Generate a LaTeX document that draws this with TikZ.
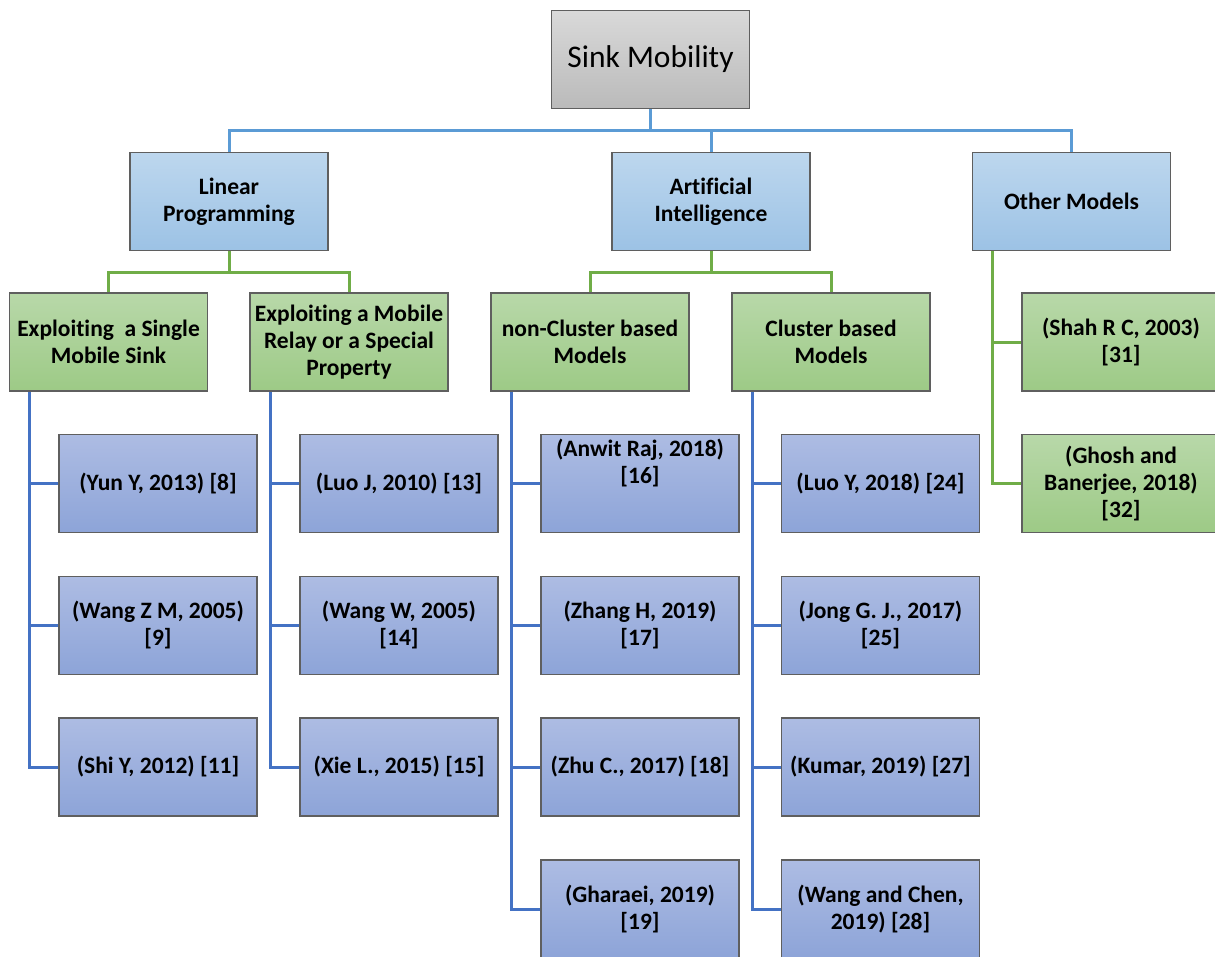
\documentclass[tikz,border=0pt]{standalone}
\usepackage{fontspec}
\setmainfont[Ligatures=NoCommon]{Carlito}
\definecolor{grayT}{HTML}{D9D9D9}
\definecolor{grayB}{HTML}{BABABA}
\definecolor{blueT}{HTML}{BDD7EE}
\definecolor{blueB}{HTML}{9CC2E5}
\definecolor{greenT}{HTML}{B8D8A9}
\definecolor{greenB}{HTML}{9DCA86}
\definecolor{leafT}{HTML}{ADBCE3}
\definecolor{leafB}{HTML}{8DA4D8}
\definecolor{edgeC}{HTML}{5F5F5F}
\definecolor{lineTop}{HTML}{5B9BD5}
\definecolor{lineLeaf}{HTML}{4472C4}
\definecolor{lineGreen}{HTML}{70AD47}
\tikzset{
  boxbase/.style={draw=edgeC, line width=1.2pt, minimum width=198pt, minimum height=98pt,
    align=center, inner sep=2pt, font=\fontsize{23.5}{27}\selectfont\bfseries},
  sinkbox/.style={boxbase, top color=grayT, bottom color=grayB, font=\fontsize{31.5}{36}\selectfont},
  catbox/.style={boxbase, top color=blueT, bottom color=blueB},
  subbox/.style={boxbase, top color=greenT, bottom color=greenB},
  leafbox/.style={boxbase, top color=leafT, bottom color=leafB},
  topline/.style={draw=lineTop, line width=3pt},
  greenline/.style={draw=lineGreen, line width=3pt},
  leafline/.style={draw=lineLeaf, line width=3pt},
}
\begin{document}
\begin{tikzpicture}[x=1pt,y=-1pt]
\useasboundingbox (0,0) rectangle (1215,956);
\clip (0,0) rectangle (1215,956);
\fill[white] (0,0) rectangle (1215,956);

% nodes
\node[sinkbox] (sink) at (650.5,59.5) {Sink Mobility};
\node[catbox] (lp) at (229,201.5) {Linear\\Programming};
\node[catbox] (ai) at (711,201.5) {Artificial\\Intelligence};
\node[catbox] (om) at (1071.5,201.5) {Other Models};

\node[subbox] (es) at (108.5,342) {Exploiting \ a Single\\Mobile Sink};
\node[subbox] (emr) at (349,342) {Exploiting a Mobile\\Relay or a Special\\Property};
\node[subbox] (nc) at (590,342) {non-Cluster based\\Models};
\node[subbox] (cb) at (831,342) {Cluster based\\Models};

\node[subbox] (o1) at (1121,342) {(Shah R C, 2003)\\{[31]}};
\node[subbox] (o2) at (1121,483.5) {(Ghosh and\\Banerjee, 2018)\\{[32]}};

\node[leafbox] (a1) at (158,483.5) {(Yun Y, 2013) [8]};
\node[leafbox] (a2) at (158,625.5) {(Wang Z M, 2005)\\{[9]}};
\node[leafbox] (a3) at (158,767) {(Shi Y, 2012) [11]};

\node[leafbox] (b1) at (399,483.5) {(Luo J, 2010) [13]};
\node[leafbox] (b2) at (399,625.5) {(Wang W, 2005)\\{[14]}};
\node[leafbox] (b3) at (399,767) {(Xie L., 2015) [15]};

\node[leafbox] (c1) at (640,483.5) {(Anwit Raj, 2018)\\{[16]}\\[18pt]};
\node[leafbox] (c2) at (640,625.5) {(Zhang H, 2019)\\{[17]}};
\node[leafbox] (c3) at (640,767) {(Zhu C., 2017) [18]};
\node[leafbox] (c4) at (640,909) {(Gharaei, 2019)\\{[19]}};

\node[leafbox] (d1) at (880.5,483.5) {(Luo Y, 2018) [24]};
\node[leafbox] (d2) at (880.5,625.5) {(Jong G. J., 2017)\\{[25]}};
\node[leafbox] (d3) at (880.5,767) {(Kumar, 2019) [27]};
\node[leafbox] (d4) at (880.5,909) {(Wang and Chen,\\2019) [28]};

% top connectors
\coordinate (hub) at (sink.south |- 0,130);
\draw[topline] (sink.south) -- (hub);
\draw[topline] (lp.north) |- (hub) -| (om.north);
\draw[topline] (hub -| ai.north) -- (ai.north);

% green connectors
\draw[greenline] (lp.south) -- ++(0,21) coordinate (lpj);
\draw[greenline] (es.north) |- (lpj) -| (emr.north);
\draw[greenline] (ai.south) -- ++(0,21) coordinate (aij);
\draw[greenline] (nc.north) |- (aij) -| (cb.north);

\coordinate (t5) at ([xshift=21pt]om.south west);
\draw[greenline] (t5) |- (o2.west);
\draw[greenline] (o1.west -| t5) -- (o1.west);

% leaf connectors
\coordinate (t1) at ([xshift=21pt]es.south west);
\draw[leafline] (t1) |- (a3.west);
\draw[leafline] (a1.west -| t1) -- (a1.west);
\draw[leafline] (a2.west -| t1) -- (a2.west);

\coordinate (t2) at ([xshift=21pt]emr.south west);
\draw[leafline] (t2) |- (b3.west);
\draw[leafline] (b1.west -| t2) -- (b1.west);
\draw[leafline] (b2.west -| t2) -- (b2.west);

\coordinate (t3) at ([xshift=21pt]nc.south west);
\draw[leafline] (t3) |- (c4.west);
\draw[leafline] (c1.west -| t3) -- (c1.west);
\draw[leafline] (c2.west -| t3) -- (c2.west);
\draw[leafline] (c3.west -| t3) -- (c3.west);

\coordinate (t4) at ([xshift=21pt]cb.south west);
\draw[leafline] (t4) |- (d4.west);
\draw[leafline] (d1.west -| t4) -- (d1.west);
\draw[leafline] (d2.west -| t4) -- (d2.west);
\draw[leafline] (d3.west -| t4) -- (d3.west);
\end{tikzpicture}
\end{document}
